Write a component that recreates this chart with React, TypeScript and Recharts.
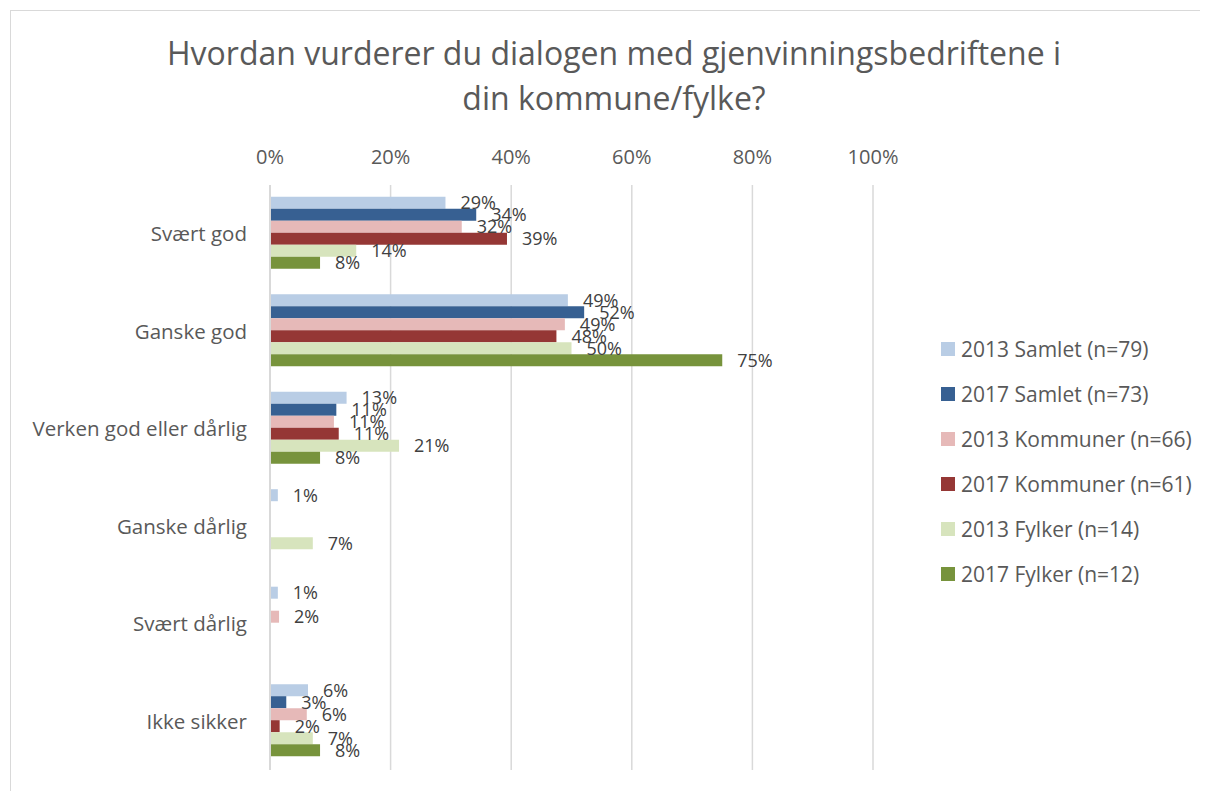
import { BarChart, Bar, XAxis, YAxis, CartesianGrid, LabelList } from "recharts";

const CATEGORIES = [
  "Svært god",
  "Ganske god",
  "Verken god eller dårlig",
  "Ganske dårlig",
  "Svært dårlig",
  "Ikke sikker",
];

// percentages (labels show them rounded)
const SAMLET_2013 = [29.1, 49.4, 12.7, 1.3, 1.3, 6.3];
const SAMLET_2017 = [34.2, 52.1, 11.0, null, null, 2.7];
const KOMMUNER_2013 = [31.8, 48.9, 10.6, null, 1.5, 6.1];
const KOMMUNER_2017 = [39.3, 47.5, 11.4, null, null, 1.6];
const FYLKER_2013 = [14.3, 50.0, 21.4, 7.1, null, 7.1];
const FYLKER_2017 = [8.3, 75.0, 8.3, null, null, 8.3];

const X_TICKS = [0, 20, 40, 60, 80, 100];

const SERIES = [
  { key: "s2013", name: "2013 Samlet (n=79)", values: SAMLET_2013, color: "#b9cde5" },
  { key: "s2017", name: "2017 Samlet (n=73)", values: SAMLET_2017, color: "#376092" },
  { key: "k2013", name: "2013 Kommuner (n=66)", values: KOMMUNER_2013, color: "#e6b9b8" },
  { key: "k2017", name: "2017 Kommuner (n=61)", values: KOMMUNER_2017, color: "#953735" },
  { key: "f2013", name: "2013 Fylker (n=14)", values: FYLKER_2013, color: "#d7e4bd" },
  { key: "f2017", name: "2017 Fylker (n=12)", values: FYLKER_2017, color: "#77933c" },
];

const TITLE = ["Hvordan vurderer du dialogen med gjenvinningsbedriftene i", "din kommune/fylke?"];

const FONT = "'Open Sans', sans-serif";

const data = CATEGORIES.map((name, i) => {
  const row: Record<string, string | number | null> = { name };
  SERIES.forEach((s) => {
    row[s.key] = s.values[i];
  });
  return row;
});

const fmt = (v: any) => (v == null ? "" : `${Math.round(Number(v))}%`);

export default function App() {
  return (
    <div style={{ position: "relative", width: 1200, height: 783, overflow: "hidden", fontFamily: FONT }}>
      <div
        style={{
          position: "absolute",
          left: 2,
          top: 2,
          width: 1300,
          height: 900,
          border: "1px solid #d9d9d9",
          boxSizing: "border-box",
        }}
      />
      <div
        style={{
          position: "absolute",
          left: 0,
          top: 22,
          width: 1212,
          textAlign: "center",
          fontSize: 32,
          lineHeight: "45px",
          color: "#595959",
        }}
      >
        {TITLE.map((t) => (
          <div key={t}>{t}</div>
        ))}
      </div>

      <div style={{ position: "absolute", left: 0, top: 0 }}>
        <BarChart
          width={1200}
          height={783}
          data={data}
          layout="vertical"
          margin={{ top: 137, right: 335, bottom: 21, left: 0 }}
          barGap={0}
          barCategoryGap="12%"
        >
          <CartesianGrid horizontal={false} stroke="#d9d9d9" strokeWidth={1.5} />
          <XAxis
            type="number"
            orientation="top"
            domain={[0, 100]}
            ticks={X_TICKS}
            tickFormatter={(v) => `${v}%`}
            axisLine={false}
            tickLine={false}
            tickSize={0}
            tickMargin={21}
            height={40}
            tick={{ fill: "#595959", fontSize: 20, fontFamily: FONT }}
          />
          <YAxis
            type="category"
            dataKey="name"
            width={262}
            axisLine={{ stroke: "#d9d9d9", strokeWidth: 2 }}
            tickLine={false}
            tickSize={0}
            tickMargin={23}
            tick={{ fill: "#595959", fontSize: 20.5, fontFamily: FONT }}
          />
          {SERIES.map((s) => (
            <Bar key={s.key} dataKey={s.key} name={s.name} fill={s.color} isAnimationActive={false}>
              <LabelList
                dataKey={s.key}
                position="right"
                offset={15}
                formatter={fmt}
                style={{ fill: "#404040", fontSize: 18, fontFamily: FONT }}
              />
            </Bar>
          ))}
        </BarChart>
      </div>

      <div style={{ position: "absolute", left: 933, top: 318 }}>
        {SERIES.map((s) => (
          <div
            key={s.key}
            style={{ display: "flex", alignItems: "center", height: 45, fontSize: 21, color: "#595959" }}
          >
            <span style={{ width: 14, height: 14, background: s.color, marginRight: 6, display: "inline-block" }} />
            <span>{s.name}</span>
          </div>
        ))}
      </div>
    </div>
  );
}
